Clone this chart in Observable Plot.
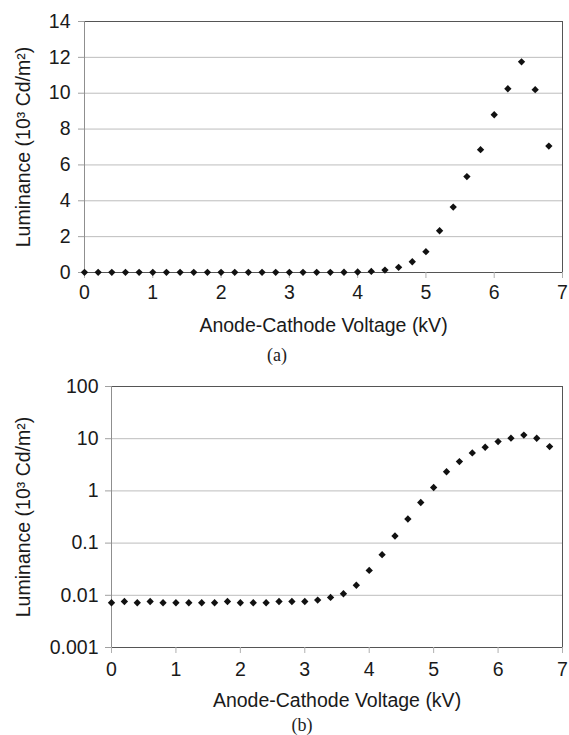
<!DOCTYPE html>
<html>
<head>
<meta charset="utf-8">
<script src="https://cdn.jsdelivr.net/npm/d3@7"></script>
<script src="https://cdn.jsdelivr.net/npm/@observablehq/plot@0.6"></script>
<style>
  html, body { margin: 0; padding: 0; background: #fff; overflow: hidden; }
  #page { width: 569px; }
  .cap { font-family: "Liberation Serif", "Times New Roman", serif; font-size: 18px; color: #222; text-align: center; }
  svg { display: block; }
</style>
</head>
<body>
<div id="page"></div>
<script>
// Data
const voltage = [0, 0.2, 0.4, 0.6, 0.8, 1.0, 1.2, 1.4, 1.6, 1.8, 2.0, 2.2, 2.4, 2.6, 2.8, 3.0, 3.2, 3.4,
  3.6, 3.8, 4.0, 4.2, 4.4, 4.6, 4.8, 5.0, 5.2, 5.4, 5.6, 5.8, 6.0, 6.2, 6.4, 6.6, 6.8];
const luminance = [0.0072, 0.0076, 0.0072, 0.0076, 0.0072, 0.0072, 0.0072, 0.0072, 0.0072, 0.0076,
  0.0072, 0.0072, 0.0072, 0.0076, 0.0076, 0.0076, 0.0081, 0.0091, 0.0107, 0.0156, 0.030, 0.060,
  0.137, 0.29, 0.60, 1.16, 2.33, 3.65, 5.35, 6.85, 8.8, 10.25, 11.75, 10.2, 7.05];
const xDomain = [0, 7];
const xTicks = [0, 1, 2, 3, 4, 5, 6, 7];
const yTicksLinear = [0, 2, 4, 6, 8, 10, 12, 14];
const yTicksLog = [0.001, 0.01, 0.1, 1, 10, 100];
const xLabel = "Anode-Cathode Voltage (kV)";
const yLabel = "Luminance (10³ Cd/m²)";
const captions = ["(a)", "(b)"];

const data = voltage.map((v, i) => ({v, lum: luminance[i]}));
const page = document.getElementById("page");
const font = "'Liberation Sans', Arial, Helvetica, sans-serif";

function panel({type, domain, ticks, height, marginTop, marginLeft, yTickPad, xTickPad, yLabelOffset, xLabelOffset}) {
  return Plot.plot({
    width: 569,
    height,
    marginTop,
    marginBottom: 68,
    marginLeft,
    marginRight: 7,
    style: {fontFamily: font, fontSize: "19.5px", background: "#fff", color: "#1a1a1a", overflow: "visible"},
    x: {domain: xDomain},
    y: {type, domain},
    marks: [
      Plot.gridY(ticks.slice(0, -1), {stroke: "#bdbdbd", strokeOpacity: 1}),
      Plot.frame({stroke: "#555"}),
      Plot.ruleX([xDomain[0]], {stroke: "#8f8f8f"}),
      Plot.axisY(ticks, {
        tickSize: 6, tickPadding: yTickPad, stroke: "#a0a0a0", fill: "#1a1a1a",
        tickFormat: d => String(d),
        label: yLabel, labelAnchor: "center", labelOffset: yLabelOffset, labelArrow: "none"
      }),
      Plot.axisX(xTicks, {
        tickSize: 6, tickPadding: xTickPad, stroke: "#b0b0b0", fill: "#1a1a1a",
        tickFormat: d => String(d),
        label: xLabel, labelAnchor: "center", labelOffset: xLabelOffset, labelArrow: "none"
      }),
      Plot.dot(data, {x: "v", y: "lum", symbol: "diamond2", r: 3.3, fill: "#111", stroke: "none"})
    ]
  });
}

page.appendChild(panel({type: "linear", domain: [0, 14], ticks: yTicksLinear, height: 340,
  marginTop: 21, marginLeft: 84, yTickPad: 8, xTickPad: 7, yLabelOffset: 68, xLabelOffset: 59}));
const capA = document.createElement("div");
capA.className = "cap";
capA.style.height = "30px"; capA.style.lineHeight = "30px";
capA.style.width = "554px"; capA.style.paddingRight = "15px";
capA.textContent = captions[0];
page.appendChild(capA);

page.appendChild(panel({type: "log", domain: [0.001, 100], ticks: yTicksLog, height: 345,
  marginTop: 16, marginLeft: 111, yTickPad: 7, xTickPad: 9, yLabelOffset: 95, xLabelOffset: 59}));
const capB = document.createElement("div");
capB.className = "cap";
capB.style.height = "20px"; capB.style.lineHeight = "20px";
capB.style.width = "534px"; capB.style.paddingLeft = "35px";
capB.textContent = captions[1];
page.appendChild(capB);
</script>
</body>
</html>
